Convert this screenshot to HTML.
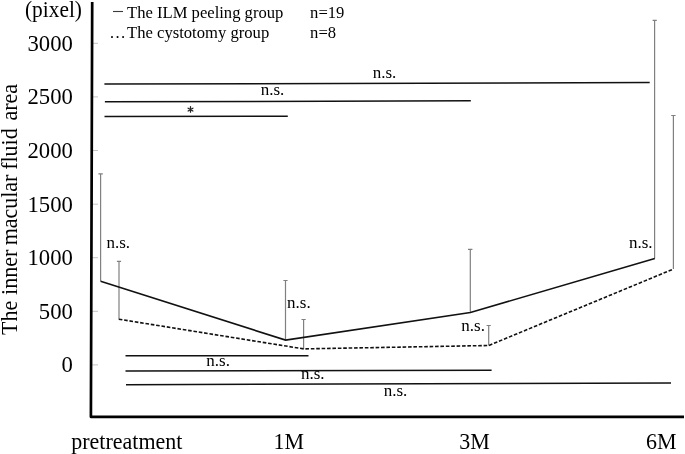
<!DOCTYPE html>
<html><head><meta charset="utf-8">
<style>
html,body{margin:0;padding:0;background:#fff;}
body{width:685px;height:454px;overflow:hidden;}
svg{display:block;filter:grayscale(1);}
text{font-family:"Liberation Serif",serif;fill:#000;}
</style></head><body>
<svg width="685" height="454" viewBox="0 0 685 454" xmlns="http://www.w3.org/2000/svg">
<rect width="685" height="454" fill="#fff"/>
<!-- ticks -->
<g stroke="#c4c4c4" stroke-width="1">
<line x1="92" y1="43.3" x2="98" y2="43.3"/>
<line x1="92" y1="96.9" x2="98" y2="96.9"/>
<line x1="92" y1="150.5" x2="98" y2="150.5"/>
<line x1="92" y1="204.2" x2="98" y2="204.2"/>
<line x1="92" y1="257.7" x2="98" y2="257.7"/>
<line x1="92" y1="311.3" x2="98" y2="311.3"/>
<line x1="92" y1="364.9" x2="98" y2="364.9"/>
</g>
<!-- axes -->
<path d="M92.2 2 L90.9 416.8 L684 416.8" fill="none" stroke="#000" stroke-width="2.7" stroke-linejoin="round"/>
<!-- error bars solid group -->
<g stroke="#808080" stroke-width="1.2" fill="none">
<path d="M100.6 281.3 V173.8 M98.4 173.8 H102.8"/>
<path d="M285.5 340.1 V280.5 M283.4 280.5 H287.6"/>
<path d="M470.3 312.5 V249.4 M468 249.4 H472.4"/>
<path d="M654.6 258.6 V20.4 M652.6 20.4 H656.8"/>
</g>
<!-- error bars dashed group -->
<g stroke="#808080" stroke-width="1.2" fill="none">
<path d="M119 319.2 V261.4 M116.9 261.4 H121.1"/>
<path d="M303.6 348.9 V319.5 M301.5 319.5 H305.7"/>
<path d="M488.7 345.5 V325.5 M486.6 325.5 H490.8"/>
<path d="M673.4 269.1 V115.5 M671.2 115.5 H675.6"/>
</g>
<!-- data lines -->
<polyline points="100.6,281.3 285.6,340.1 470.4,312.5 654.8,258.6" fill="none" stroke="#111" stroke-width="1.6" stroke-linejoin="miter"/>
<polyline points="118.8,319.2 303.6,348.9 488.7,345.5 673.3,269.1" fill="none" stroke="#111" stroke-width="1.6" stroke-dasharray="3.6 1.8"/>
<!-- significance lines -->
<g stroke="#111" stroke-width="1.5" fill="none">
<line x1="104.4" y1="84.1" x2="649.7" y2="82.6"/>
<line x1="104.9" y1="101.8" x2="470.8" y2="100.8"/>
<line x1="104.5" y1="116.4" x2="287.8" y2="116.2"/>
<line x1="125.5" y1="355.8" x2="308.5" y2="355.7"/>
<line x1="125.5" y1="371.1" x2="491.6" y2="370.2"/>
<line x1="126" y1="384.7" x2="671" y2="383"/>
</g>
<!-- axis labels -->
<text transform="translate(25 16.9) scale(0.93 1)" font-size="23">(pixel)</text>
<text transform="translate(72.9 50.7) scale(0.97 1)" font-size="23.4" text-anchor="end">3000</text>
<text transform="translate(72.9 104.3) scale(0.97 1)" font-size="23.4" text-anchor="end">2500</text>
<text transform="translate(72.9 157.9) scale(0.97 1)" font-size="23.4" text-anchor="end">2000</text>
<text transform="translate(72.9 211.6) scale(0.97 1)" font-size="23.4" text-anchor="end">1500</text>
<text transform="translate(72.9 265.1) scale(0.97 1)" font-size="23.4" text-anchor="end">1000</text>
<text transform="translate(72.9 318.7) scale(0.97 1)" font-size="23.4" text-anchor="end">500</text>
<text transform="translate(72.9 372.3) scale(0.97 1)" font-size="23.4" text-anchor="end">0</text>
<text transform="translate(16.8 334.93) rotate(-90) scale(0.94 1)" font-size="23.4">The</text>
<text transform="translate(16.8 294.9) rotate(-90) scale(0.94 1)" font-size="23.4">inner</text>
<text transform="translate(16.8 245.37) rotate(-90) scale(0.94 1)" font-size="23.4">macular</text>
<text transform="translate(16.8 169.8) rotate(-90) scale(0.94 1)" font-size="23.4">fluid</text>
<text transform="translate(16.8 120.48) rotate(-90) scale(0.94 1)" font-size="23.4">area</text>
<text transform="translate(71.3 448.6) scale(0.94 1)" font-size="23.4">pretreatment</text>
<text transform="translate(273.4 448.6) scale(0.94 1)" font-size="23.4">1M</text>
<text transform="translate(459.2 448.6) scale(0.94 1)" font-size="23.4">3M</text>
<text transform="translate(646.1 448.6) scale(0.94 1)" font-size="23.4">6M</text>
<!-- legend -->
<line x1="113" y1="11.5" x2="123" y2="11.5" stroke="#3a3a3a" stroke-width="1.1"/>
<g font-size="16.6">
<text x="127.1" y="17.8">The ILM peeling group</text>
<text x="109.3" y="37.8">…</text><text x="127.1" y="37.8">The cystotomy</text>
<text x="230.5" y="37.8">group</text>
<text x="310.1" y="17.8">n=19</text>
<text x="310.1" y="37.8">n=8</text>
</g>
<!-- n.s. -->
<path d="M190.5 106.7 V112.2 M188.1 108.2 L192.9 111 M188.1 111 L192.9 108.2" stroke="#222" stroke-width="1.3" stroke-linecap="round" fill="none"/>
<g font-size="17">
<text x="372.7" y="77.9">n.s.</text>
<text x="260.7" y="95.4">n.s.</text>

<text x="106.4" y="247.5">n.s.</text>
<text x="287.1" y="307.9">n.s.</text>
<text x="461.3" y="330.7">n.s.</text>
<text x="628.9" y="247.5">n.s.</text>
<text x="206.3" y="365.9">n.s.</text>
<text x="300.9" y="379.4">n.s.</text>
<text x="383.7" y="395.5">n.s.</text>
</g>
</svg>
</body></html>
